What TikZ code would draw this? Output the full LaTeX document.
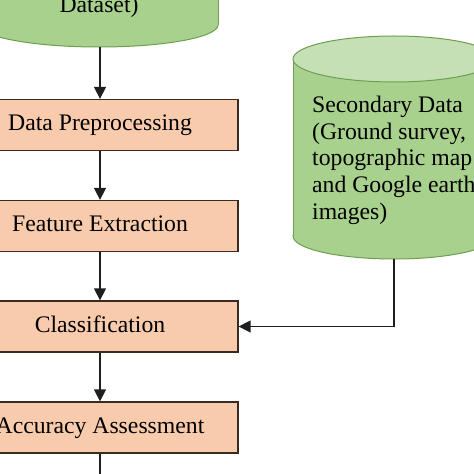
\documentclass[tikz,border=0pt]{standalone}
\usepackage{fontspec}
\setmainfont{Liberation Serif}
\usetikzlibrary{arrows.meta}
\definecolor{boxfill}{HTML}{F8CBAD}
\definecolor{boxline}{HTML}{3A2A22}
\definecolor{gbody}{HTML}{A9D18E}
\definecolor{gtop}{HTML}{C5E0B4}
\definecolor{gline}{HTML}{6E9E50}
\definecolor{connc}{HTML}{1E1E1E}
\begin{document}
\begin{tikzpicture}[x=1bp,y=-1bp,
  every node/.style={font=\fontsize{23.8}{26.7}\selectfont},
  stepbox/.style={draw=boxline, line width=1.3bp, fill=boxfill,
    minimum width=276bp, minimum height=51bp, inner sep=0,
    text height=16bp, text depth=5bp},
  flow/.style={draw=connc, line width=1.5bp, -{Triangle[length=12bp,width=12bp]}},
  plainline/.style={draw=connc, line width=1.5bp},
  cylline/.style={draw=gline, line width=1bp}]
\useasboundingbox (0,0) rectangle (474,474);
% primary data cylinder (cut by the top edge)
\fill[gbody] (99,25) ellipse [x radius=119, y radius=22];
\draw[cylline] (99,25) ellipse [x radius=119, y radius=22];
\fill[gbody] (-20,-60) rectangle (218,25);
\draw[cylline] (-20,-60) -- (-20,25) (218,-60) -- (218,25);
\node[anchor=base] (ds) at (99,13) {Dataset)};
\coordinate (pri) at (100,47);
% secondary data cylinder
\fill[gbody] (394,236) ellipse [x radius=101, y radius=23];
\draw[cylline] (394,236) ellipse [x radius=101, y radius=23];
\fill[gbody] (293,59) rectangle (495,236);
\draw[cylline] (293,59) -- (293,236) (495,59) -- (495,236);
\fill[gtop] (394,59) ellipse [x radius=101, y radius=23];
\draw[cylline] (394,59) ellipse [x radius=101, y radius=23];
\node[anchor=north west, align=left, inner sep=0] (sectext) at (312,96)
  {Secondary Data\\(Ground survey,\\topographic map\\and Google earth\\images)};
\coordinate (sec) at (394,259);
% process boxes
\node[stepbox] (dp) at (100,125) {Data Preprocessing};
\node[stepbox] (fe) at (100,226) {Feature Extraction};
\node[stepbox] (cl) at (100,326.5) {Classification};
\node[stepbox] (aa) at (100,427.5) {Accuracy Assessment};
\coordinate (bot) at (100,480);
% connectors
\draw[flow] (pri) -- (dp.north);
\draw[flow] (dp.south) -- (fe.north);
\draw[flow] (fe.south) -- (cl.north);
\draw[flow] (cl.south) -- (aa.north);
\draw[flow] (sec) |- (cl.east);
\draw[plainline] (aa.south) -- (bot);
\end{tikzpicture}
\end{document}
